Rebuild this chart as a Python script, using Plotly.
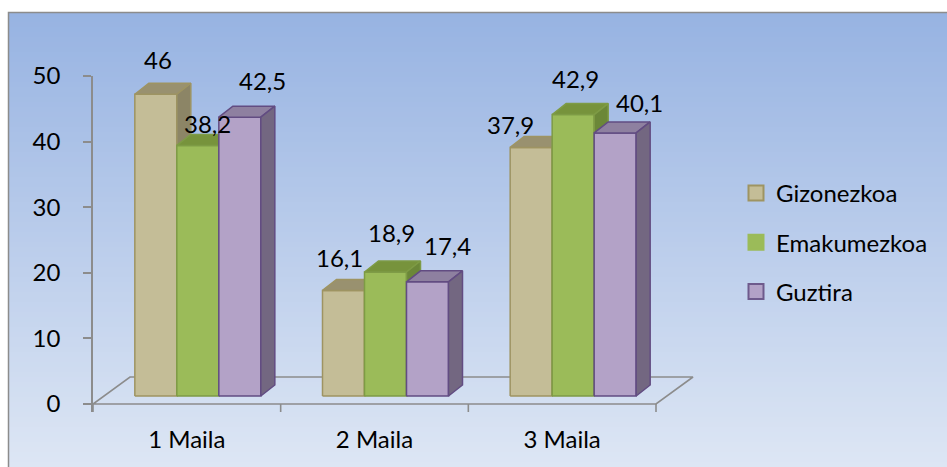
import plotly.graph_objects as go

# ---------------- data ----------------
categories = ["1 Maila", "2 Maila", "3 Maila"]
series_names = ["Gizonezkoa", "Emakumezkoa", "Guztira"]
gizonezkoa = [46, 16.1, 37.9]
emakumezkoa = [38.2, 18.9, 42.9]
guztira = [42.5, 17.4, 40.1]
y_ticks = [0, 10, 20, 30, 40, 50]

series_values = [gizonezkoa, emakumezkoa, guztira]

# ---------------- styles ----------------
styles = [
    dict(front="#C4BD97", top="#99916F", side="#8C8566", line="#9E9462", legend_line="#9E9462"),
    dict(front="#9BBB59", top="#77933C", side="#6B8738", line="#7E9B45", legend_line="#9BBB59"),
    dict(front="#B3A2C7", top="#8E80A0", side="#736781", line="#624C82", legend_line="#6E5A8C"),
]
# label offsets (px) relative to the back-top edge of each bar
label_rise = [[24, 22, 12], [11, 29, 25], [26, 25, 19]]
label_shift = [[2, -4, -21], [10, 6, 2], [23, 20, 24]]

FONT = "Lato, 'Open Sans', sans-serif"
FS = 24
AXIS_GREY = "#8C8C8C"

W, H = 947, 467
L, R, T, B = 93, 700, 76, 412          # plot area in px
PX_Y = (404 - 76) / max(y_ticks)      # px per value unit
PX_X = (656 - 93) / len(categories)   # px per category
Y_MAX = max(y_ticks)
Y_MIN = -(B - 404) / PX_Y
X_MIN = -0.5
X_MAX = X_MIN + (R - L) / PX_X

BAR_W = 42 / PX_X
GROUP_SHIFT = 11 / PX_X
BASE = 8 / PX_Y
DX = 14 / PX_X
DY = 11 / PX_Y
FLOOR_DX = 37 / PX_X
FLOOR_DY = 27 / PX_Y


def pxx(px):
    return (px - L) / (R - L)


def pxy(py):
    return (B - py) / (B - T)


fig = go.Figure()

# floor outline
fx0, fx1 = X_MIN, len(categories) - 0.5
fig.add_trace(go.Scatter(
    x=[fx0, fx1, fx1 + FLOOR_DX, fx0 + FLOOR_DX, fx0],
    y=[0, 0, FLOOR_DY, FLOOR_DY, 0],
    mode="lines", line=dict(color=AXIS_GREY, width=1.6),
    hoverinfo="skip", showlegend=False))

annotations = []
n = len(series_values)
for c in range(len(categories)):
    for s in range(n):
        v = series_values[s][c]
        st = styles[s]
        x0 = c + GROUP_SHIFT + (s - n / 2) * BAR_W
        x1 = x0 + BAR_W
        y0 = BASE
        y1 = BASE + v
        faces = [
            ([x0, x1, x1, x0, x0], [y0, y0, y1, y1, y0], st["front"]),
            ([x0, x1, x1 + DX, x0 + DX, x0], [y1, y1, y1 + DY, y1 + DY, y1], st["top"]),
            ([x1, x1 + DX, x1 + DX, x1, x1], [y0, y0 + DY, y1 + DY, y1, y0], st["side"]),
        ]
        for fx, fy, col in faces:
            fig.add_trace(go.Scatter(
                x=fx, y=fy, mode="lines", fill="toself", fillcolor=col,
                line=dict(color=st["line"], width=1.5),
                hoverinfo="skip", showlegend=False))
        annotations.append(dict(
            x=(x0 + x1) / 2, y=y1 + DY, xref="x", yref="y",
            text=f"{v:g}".replace(".", ","), showarrow=False,
            xanchor="center", yanchor="middle",
            xshift=label_shift[s][c], yshift=label_rise[s][c],
            font=dict(family=FONT, size=FS, color="#000000")))

# legend-only traces
for s, name in enumerate(series_names):
    st = styles[s]
    fig.add_trace(go.Scatter(
        x=[None], y=[None], mode="markers", name=name, legendgroup=name,
        marker=dict(symbol="square", size=15, color=st["front"],
                    line=dict(color=st["legend_line"], width=2))))

# background gradient strips + frame
shapes = []
top_col = (0x97, 0xB3, 0xE2)
bot_col = (0xDD, 0xE6, 0xF4)
y_start, y_end, N = 12, 467, 91
step = (y_end - y_start) / N
for i in range(N):
    t = i / (N - 1)
    col = tuple(round(a + (b - a) * t) for a, b in zip(top_col, bot_col))
    ya = y_start + i * step
    yb = ya + step + 1
    shapes.append(dict(type="rect", xref="paper", yref="paper", layer="below",
                       x0=pxx(8), x1=pxx(W + 5), y0=pxy(min(yb, H + 5)), y1=pxy(ya),
                       fillcolor="rgb(%d,%d,%d)" % col, line=dict(width=0)))
shapes.append(dict(type="rect", xref="paper", yref="paper", layer="below",
                   x0=pxx(8.5), x1=pxx(W + 10), y0=pxy(H + 10), y1=pxy(12.5),
                   fillcolor="rgba(0,0,0,0)", line=dict(color=AXIS_GREY, width=1.5)))
# category tick marks below the floor
for k in range(len(categories) + 1):
    shapes.append(dict(type="line", xref="x", yref="y", layer="above",
                       x0=X_MIN + k, x1=X_MIN + k, y0=0, y1=Y_MIN,
                       line=dict(color=AXIS_GREY, width=1.6)))

fig.update_layout(
    width=W, height=H,
    margin=dict(l=L, r=W - R, t=T, b=H - B, pad=0),
    paper_bgcolor="white", plot_bgcolor="rgba(0,0,0,0)",
    showlegend=True,
    legend=dict(x=pxx(736), y=pxy(171), xanchor="left", yanchor="top",
                bgcolor="rgba(0,0,0,0)", tracegroupgap=15,
                font=dict(family=FONT, size=FS, color="#000000")),
    shapes=shapes, annotations=annotations,
    xaxis=dict(range=[X_MIN, X_MAX], tickvals=list(range(len(categories))),
               ticktext=categories, showgrid=False, zeroline=False,
               showline=False, ticks="", ticklabelstandoff=11,
               tickfont=dict(family=FONT, size=FS, color="#000000"),
               fixedrange=True),
    yaxis=dict(range=[Y_MIN, Y_MAX], tickvals=y_ticks, showgrid=False,
               zeroline=False, showline=True, linecolor=AXIS_GREY, linewidth=1.6,
               ticks="outside", ticklen=8, tickcolor=AXIS_GREY, tickwidth=1.6,
               ticklabelstandoff=18,
               tickfont=dict(family=FONT, size=FS, color="#000000"),
               fixedrange=True),
)

fig.write_html("out.html", config={"displayModeBar": False},
               post_script="document.body.style.margin='0';")
